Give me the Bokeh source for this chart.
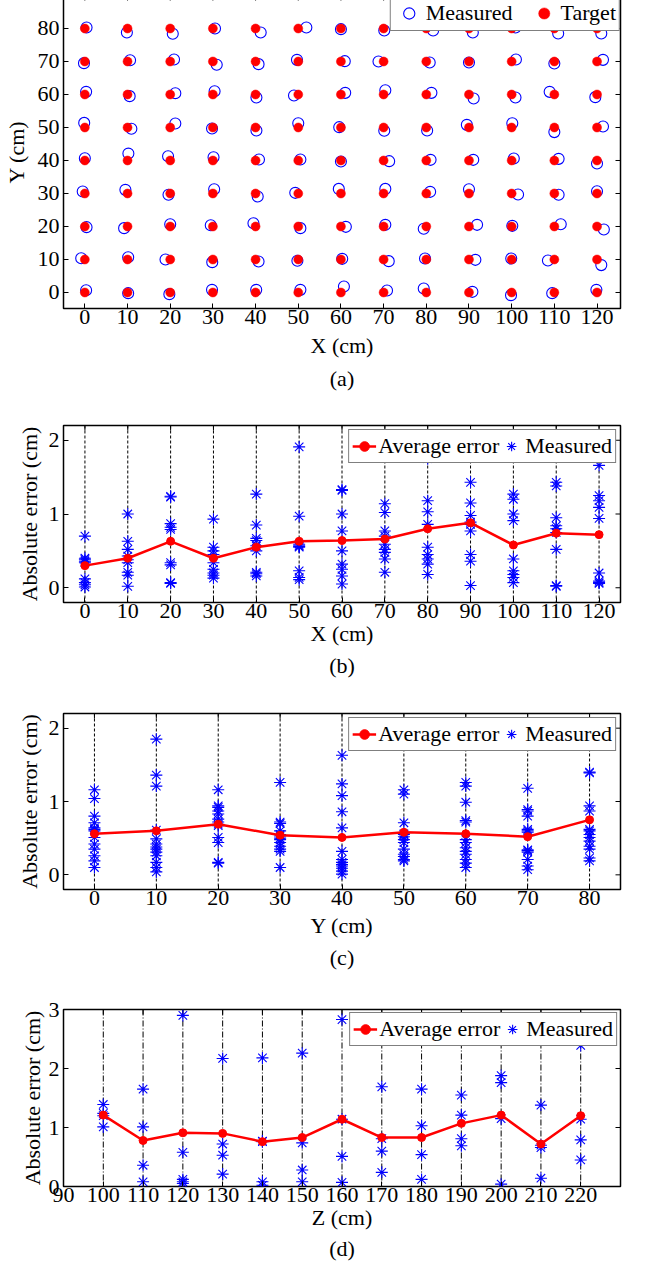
import math
from bokeh.plotting import figure
from bokeh.models import Range1d, FixedTicker, Span, Legend, LegendItem, Title
from bokeh.layouts import column
from bokeh.embed import file_html
from bokeh.resources import INLINE

FONT = "Liberation Serif"
BLUE = "#0000ff"
RED = "#ff0000"
FS = "22px"

# ---------------- data ----------------
grid_x = [0, 10, 20, 30, 40, 50, 60, 70, 80, 90, 100, 110, 120]
grid_y = [80, 70, 60, 50, 40, 30, 20, 10, 0]

# measured offsets (cm) from each target, rows = grid_y, cols = grid_x
meas_dx = [
    [0.4, -0.15, 0.6, 0.5, 1.2, 1.9, 0.0, 0.15, 1.6, 0.9, 0.9, 0.9, 1.0],
    [-0.2, 0.6, 0.9, 0.9, 0.7, -0.3, 0.9, -1.2, 0.8, 0.0, 1.0, 0.0, 1.4],
    [0.3, 0.5, 1.2, 0.4, 0.2, -1.0, 1.0, 0.4, 1.2, 1.1, 0.9, -1.1, -0.4],
    [-0.15, 0.9, 1.2, -0.2, 0.2, 0.0, -0.4, 0.15, 0.2, -0.5, 0.15, 0.0, 1.4],
    [0.0, 0.2, -0.5, 0.15, 0.8, 0.5, 0.0, 1.3, 1.0, 1.0, 0.5, 1.0, 0.0],
    [-0.5, -0.5, -0.4, 0.3, 0.5, -0.7, -0.5, 0.4, 0.9, 0.0, 1.5, 1.0, 0.0],
    [0.4, -0.8, 0.0, -0.5, -0.5, 0.5, 1.15, 0.4, -0.6, 1.9, 0.15, 1.5, 1.6],
    [-0.85, 0.15, -1.1, -0.15, 0.7, -0.2, 0.3, 1.2, -0.3, 1.5, -0.1, -1.5, 1.0],
    [0.3, 0.15, -0.2, -0.2, 0.15, 0.5, 0.7, 0.8, -0.6, 0.8, -0.15, -0.5, -0.15],
]
meas_dy = [
    [0.3, -1.2, -1.6, 0.0, -1.2, 0.3, -0.2, -0.6, -0.6, -1.2, 0.3, -1.5, -1.5],
    [-0.5, 0.4, 0.6, -1.0, -0.8, 0.5, 0.1, 0.0, -0.3, -0.3, 0.6, -0.6, 0.5],
    [0.8, -0.5, 0.4, 1.0, -0.9, -0.3, 0.5, 1.3, 0.5, -1.2, -0.9, 0.8, -0.8],
    [1.4, -0.4, 1.2, -0.3, -0.9, 1.3, 0.1, -1.0, -0.9, 0.8, 1.3, -1.4, 0.3],
    [0.7, 2.1, 1.3, 1.0, 0.3, 0.3, -0.3, -0.2, 0.2, 0.2, 0.6, 0.5, -0.9],
    [0.6, 1.1, -0.4, 1.3, -0.9, 0.2, 1.4, 1.4, 0.5, 1.3, -0.3, -0.4, 0.7],
    [-0.2, -0.5, 0.7, 0.4, 1.0, -0.5, -0.1, 0.5, -0.7, 0.5, 0.2, 0.7, -0.9],
    [0.4, 0.7, 0.0, -0.8, -0.6, -0.4, 0.2, -0.5, 0.3, -0.1, 0.3, -0.3, -1.7],
    [0.7, -0.2, -0.5, 0.8, 0.8, 0.8, 1.8, 0.6, 1.2, 0.2, -0.8, -0.2, 0.8],
]

# (b) absolute error vs X
err_x = [
    [0.70, 0.40, 0.38, 0.36, 0.34, 0.12, 0.07, 0.04, 0.01],
    [1.00, 0.63, 0.52, 0.43, 0.38, 0.34, 0.21, 0.17, 0.02],
    [1.24, 1.23, 0.87, 0.82, 0.79, 0.34, 0.31, 0.07, 0.06],
    [0.93, 0.55, 0.50, 0.45, 0.34, 0.25, 0.20, 0.17, 0.13],
    [1.27, 0.85, 0.67, 0.64, 0.57, 0.50, 0.21, 0.19, 0.16],
    [1.91, 0.97, 0.59, 0.57, 0.56, 0.55, 0.23, 0.14, 0.11],
    [1.33, 1.32, 1.00, 0.77, 0.50, 0.32, 0.25, 0.16, 0.05],
    [1.14, 1.02, 0.77, 0.70, 0.59, 0.52, 0.48, 0.39, 0.21],
    [1.75, 1.18, 1.03, 0.86, 0.55, 0.45, 0.39, 0.32, 0.18],
    [1.43, 1.15, 0.98, 0.89, 0.86, 0.77, 0.45, 0.36, 0.03],
    [1.27, 1.20, 1.00, 0.91, 0.39, 0.23, 0.18, 0.14, 0.07],
    [1.43, 1.38, 0.95, 0.84, 0.80, 0.75, 0.52, 0.03, 0.02],
    [1.66, 1.25, 1.18, 1.09, 0.94, 0.20, 0.09, 0.07, 0.06],
]
avg_x = [0.30, 0.40, 0.63, 0.40, 0.55, 0.63, 0.64, 0.66, 0.80, 0.88, 0.58, 0.74, 0.72]

# (c) absolute error vs Y
cols_y = [0, 10, 20, 30, 40, 50, 60, 70, 80]
err_y = [
    [1.16, 1.04, 0.80, 0.71, 0.64, 0.62, 0.60, 0.51, 0.42, 0.35, 0.26, 0.19, 0.10],
    [1.85, 1.36, 1.21, 0.61, 0.49, 0.42, 0.38, 0.35, 0.31, 0.26, 0.17, 0.10, 0.04],
    [1.16, 0.94, 0.92, 0.87, 0.83, 0.76, 0.72, 0.69, 0.67, 0.51, 0.44, 0.17, 0.16],
    [1.26, 0.72, 0.70, 0.60, 0.55, 0.53, 0.50, 0.48, 0.44, 0.39, 0.35, 0.32, 0.10],
    [1.63, 1.24, 1.08, 0.86, 0.64, 0.32, 0.21, 0.17, 0.14, 0.12, 0.09, 0.05, 0.01],
    [1.16, 1.10, 0.71, 0.56, 0.55, 0.52, 0.48, 0.44, 0.35, 0.28, 0.25, 0.21, 0.19],
    [1.26, 1.21, 0.99, 0.74, 0.72, 0.48, 0.44, 0.37, 0.32, 0.28, 0.21, 0.16, 0.10],
    [1.18, 0.89, 0.87, 0.80, 0.62, 0.60, 0.58, 0.34, 0.33, 0.31, 0.21, 0.12, 0.07],
    [1.40, 1.39, 0.94, 0.87, 0.62, 0.60, 0.55, 0.51, 0.46, 0.39, 0.35, 0.23, 0.19],
]
avg_y = [0.56, 0.60, 0.69, 0.54, 0.51, 0.58, 0.56, 0.52, 0.75]

# (d) absolute error vs Z
cols_z = [100, 110, 120, 130, 140, 150, 160, 170, 180, 190, 200, 210, 220]
err_z = [
    [1.39, 1.24, 1.20, 1.01],
    [1.65, 1.01, 0.36, 0.08],
    [2.90, 0.58, 0.12, 0.08, 0.05],
    [2.17, 0.72, 0.53, 0.21],
    [2.18, 0.77, 0.76, 0.08, 0.02],
    [2.26, 0.74, 0.28, 0.08],
    [2.83, 1.14, 0.51, 0.07],
    [1.69, 0.81, 0.60, 0.24],
    [1.65, 1.03, 0.54, 0.12],
    [1.55, 1.21, 0.81, 0.69],
    [1.88, 1.76, 1.15, 0.04],
    [1.38, 0.70, 0.66, 0.14],
    [2.39, 1.14, 0.79, 0.45],
]
avg_z = [1.21, 0.78, 0.91, 0.90, 0.76, 0.83, 1.14, 0.83, 0.83, 1.07, 1.21, 0.72, 1.20]

xticks_a = grid_x
yticks_a = [0, 10, 20, 30, 40, 50, 60, 70, 80]
yticks_err = [0, 1, 2]
xticks_z = [90, 100, 110, 120, 130, 140, 150, 160, 170, 180, 190, 200, 210, 220]
yticks_z = [0, 1, 2, 3]


# ---------------- helpers ----------------
def make_fig(height, xr, yr, xt, yt, xlabel, ylabel, caption, bl, br, bt, bb, s1, s2, s3, sy):
    p = figure(width=635, height=height, x_range=Range1d(*xr), y_range=Range1d(*yr),
               output_backend="svg", toolbar_location=None,
               min_border_left=bl, min_border_right=br, min_border_top=bt, min_border_bottom=bb)
    p.grid.visible = False
    p.outline_line_color = "black"
    p.outline_line_width = 1.5
    p.background_fill_color = "white"
    p.border_fill_color = "white"
    for ax, ticks in ((p.xaxis[0], xt), (p.yaxis[0], yt)):
        ax.ticker = FixedTicker(ticks=ticks)
        ax.major_label_text_font = FONT
        ax.major_label_text_font_size = FS
        ax.major_label_text_color = "black"
        ax.axis_label_text_font = FONT
        ax.axis_label_text_font_size = FS
        ax.axis_label_text_font_style = "normal"
        ax.axis_label_text_color = "black"
        ax.major_tick_in = 5
        ax.major_tick_out = 0
        ax.minor_tick_in = 0
        ax.minor_tick_out = 0
        ax.axis_line_color = None
        ax.major_tick_line_color = "black"
    p.xaxis[0].axis_label = xlabel
    p.yaxis[0].axis_label = ylabel
    p.xaxis[0].major_label_standoff = s1
    p.xaxis[0].axis_label_standoff = s2
    p.yaxis[0].major_label_standoff = 4
    p.yaxis[0].axis_label_standoff = sy
    # inward ticks on the top and right edges of the box (clipped to the frame)
    p.scatter(xt, [yr[1]] * len(xt), marker="dash", size=10, angle=math.pi / 2,
              line_color="black", line_width=1)
    p.scatter([xr[1]] * len(yt), yt, marker="dash", size=10, line_color="black", line_width=1)
    p.add_layout(Title(text=caption, align="center", text_font=FONT, text_font_size=FS,
                       text_font_style="normal", text_color="black", standoff=s3), "below")
    return p


def style_legend(items, gw, gh, spacing, standoff, padding, margin):
    return Legend(items=items, orientation="horizontal", location="top_right", margin=margin,
                  padding=padding, spacing=spacing, glyph_width=gw, glyph_height=gh,
                  label_standoff=standoff, label_text_font=FONT, label_text_font_size=FS,
                  label_text_color="black", border_line_color="black", border_line_width=1.5,
                  background_fill_color="white", background_fill_alpha=1.0)


# ---------------- (a) ----------------
pa = make_fig(418, (-5, 125.5), (-4.85, 90), xticks_a, yticks_a, "X (cm)", "Y (cm)", "(a)",
              58, 15, 1, 104, 1, 6, 6, 6)
tx, ty, mx, my = [], [], [], []
for i, yv in enumerate(grid_y):
    for j, xv in enumerate(grid_x):
        tx.append(xv)
        ty.append(yv)
        mx.append(xv + meas_dx[i][j])
        my.append(yv + meas_dy[i][j])
r_meas = pa.scatter(mx, my, marker="circle", size=11, fill_color=None, line_color=BLUE, line_width=1.1)
r_targ = pa.scatter(tx, ty, marker="circle", size=9, fill_color=RED, line_color=RED, line_width=0.5)
pa.add_layout(style_legend([LegendItem(label="Measured", renderers=[r_meas]),
                            LegendItem(label="Target", renderers=[r_targ])],
                           30, 28, 16, 2, 3, 0))


def err_panel(height, xr, yr, xt, yt, xlabel, caption, cols, errs, avg, dash, bl, br, bt, bb,
              s1, s2, s3, sy, legend_margin):
    p = make_fig(height, xr, yr, xt, yt, xlabel, "Absolute error (cm)", caption,
                 bl, br, bt, bb, s1, s2, s3, sy)
    for c in cols:
        p.add_layout(Span(location=c, dimension="height", line_color="black", line_width=1,
                          line_dash=dash, level="underlay"))
    ex, ey = [], []
    for c, vals in zip(cols, errs):
        for v in vals:
            ex.append(c)
            ey.append(v)
    r_m = p.scatter(ex, ey, marker="asterisk", size=12, line_color=BLUE, line_width=1.1)
    r_l = p.line(cols, avg, line_color=RED, line_width=2.5)
    r_d = p.scatter(cols, avg, marker="circle", size=8, fill_color=RED, line_color=RED)
    p.add_layout(style_legend([LegendItem(label="Average error", renderers=[r_l, r_d]),
                               LegendItem(label="Measured", renderers=[r_m])],
                              24, 24, 0, 2, 3, legend_margin))
    return p


pb = err_panel(285, (-5, 125), (-0.2, 2.2), grid_x, yticks_err, "X (cm)", "(b)",
               grid_x, err_x, avg_x, "3 2", 58, 7, 13, 95, 1, 0, 4, 4, 4)
pc = err_panel(290, (-5, 85), (-0.2, 2.2), cols_y, yticks_err, "Y (cm)", "(c)",
               cols_y, err_y, avg_y, "3 2", 58, 7, 16, 98, 1, 5, 4, 4, 4)
pd = err_panel(276, (90, 230), (0, 3), xticks_z, yticks_z, "Z (cm)", "(d)",
               cols_z, err_z, avg_z, "6 2 1 2", 56, 6, 22, 77, 1, 0, 3, 1, 3)

layout = column(pa, pb, pc, pd, spacing=0, styles={"margin-top": "-6px"})
open("out.html", "w").write(file_html(layout, INLINE))
